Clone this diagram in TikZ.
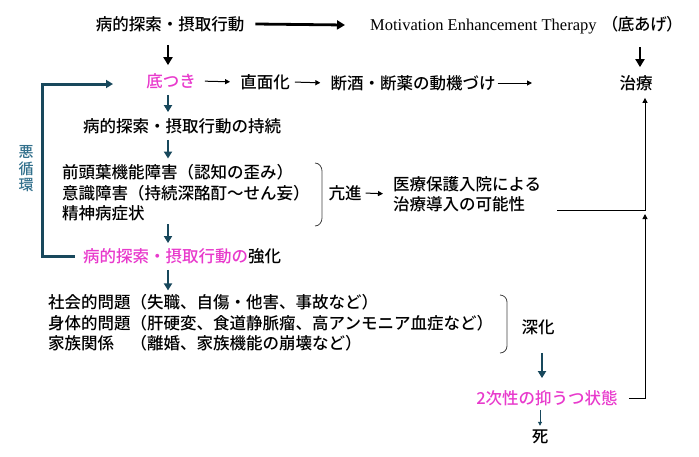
\documentclass[tikz,border=0pt]{standalone}
\usepackage{fontspec}
\setmainfont{Noto Sans CJK JP}[UprightFont={* Medium}]
\newfontfamily\metfont{Liberation Serif}
\usepackage{tikz}
\usetikzlibrary{arrows.meta}
\definecolor{pinkish}{RGB}{232,58,204}
\definecolor{deepteal}{RGB}{24,72,92}
\definecolor{loopteal}{RGB}{50,112,140}

\begin{document}
\begin{tikzpicture}[x=1pt,y=-1pt,
	every node/.style={inner sep=2pt,font=\fontsize{16.5}{20.5}\selectfont},
	lines/.style={align=left,anchor=west},
	pink/.style={text=pinkish},
	blackarr/.style={-{Triangle[length=8pt,width=9pt]},line width=2.8pt},
	thinarr/.style={-{Triangle[length=5pt,width=5pt]},line width=1pt},
	tealarr/.style={draw=deepteal,-{Triangle[length=7pt,width=8pt]},line width=2.8pt},
	tealthin/.style={draw=deepteal,-{Triangle[length=4pt,width=4pt]},line width=0.9pt},
	bracket/.style={draw=black!75,line width=0.8pt}]
\useasboundingbox (0,0) rectangle (699,456);
\coordinate (ax) at (168,0);
\coordinate (cx) at (640,0);
\coordinate (sx) at (542,0);
\coordinate (rx) at (645,0);
\coordinate (loopL) at (42,84);
\coordinate (loopin) at (113,84);
\coordinate (dokiend) at (532,83);
\coordinate (rj) at (645,214);

\node (top) at (170,24) {病的探索・摂取行動};
\node[lines] (met) at (368,25) {{\metfont\fontsize{16.5}{20}\selectfont Motivation Enhancement Therapy}\hspace{13pt}{\addfontfeatures{RawFeature=+palt}（底あげ）}};
\node[pink] (soko) at (171,81) {底つき};
\node (chokumen) at (265,82) {直面化};
\node (doki) at (413,83) {断酒・断薬の動機づけ};
\node (chiryo) at (636,83) {治療};
\node (jizoku) at (182,126) {病的探索・摂取行動の持続};
\node[lines] (sym) at (60,193) {前頭葉機能障害（認知の歪み）\\意識障害（持続深酩酊〜せん妄）\\精神病症状};
\node (koshin) at (345,193) {亢進};
\node[lines] (iryo) at (391,194) {医療保護入院による\\治療導入の可能性};
\node (kyoka) at (182,256) {\textcolor{pinkish}{病的探索・摂取行動の}強化};
\node[lines] (prob) at (46,323) {社会的問題（失職、自傷・他害、事故など）\\身体的問題（肝硬変、食道静脈瘤、高アンモニア血症など）\\家族関係　（離婚、家族機能の崩壊など）};
\node (shinka) at (538,327) {深化};
\node[pink] (utsu) at (547,398) {2次性の抑うつ状態};
\node (shi) at (540,437) {死};
\node[text=loopteal,align=center,font=\fontsize{15}{16.5}\selectfont] (akujun) at (26,169) {悪\\循\\環};

\draw[blackarr] ([xshift=9pt]top.east) -- ([xshift=-23pt]met.west);
\draw[blackarr,shorten <=11pt,shorten >=6pt] (top.south -| ax) -- (soko.north -| ax);
\draw[blackarr,shorten <=11pt,shorten >=6pt] (met.south -| cx) -- (chiryo.north -| cx);
\draw[thinarr,shorten <=7pt,shorten >=8pt] (soko.east) -- (chokumen.west);
\draw[thinarr,shorten <=3pt,shorten >=8pt] (chokumen.east) -- (doki.west);
\draw[thinarr] (doki.east) -- (dokiend);
\draw[tealarr,shorten <=4pt,shorten >=4pt] (soko.south -| ax) -- (jizoku.north -| ax);
\draw[tealarr,shorten <=4pt,shorten >=4pt] (jizoku.south -| ax) -- (sym.north -| ax);
\draw[tealarr,shorten <=1pt,shorten >=3pt] (sym.south -| ax) -- (kyoka.north -| ax);
\draw[tealarr,shorten <=4pt,shorten >=2pt] (kyoka.south -| ax) -- (prob.north -| ax);
\draw[tealarr,line width=3pt] ([xshift=-6pt]kyoka.west) -| (loopL) -- (loopin);
\draw[bracket] (315,163) to[out=0,in=90] (322,171) -- (322,218) to[out=-90,in=0] (315,226);
\draw[thinarr,shorten <=2pt,shorten >=8pt] (koshin.east) -- (iryo.west);
\draw[thinarr,shorten >=5pt] ([xshift=14pt,yshift=-16pt]iryo.east) -| (rx |- chiryo.south);
\draw[bracket] (500,295) to[out=0,in=90] (507,302) -- (507,346) to[out=-90,in=0] (500,353);
\draw[tealarr,shorten <=16pt,shorten >=10pt] (shinka.south -| sx) -- (utsu.north -| sx);
\draw[thinarr,shorten <=9pt] (utsu.east) -| (rj);
\draw[tealthin,shorten <=2pt,shorten >=2pt] (utsu.south -| shi) -- (shi.north);
\end{tikzpicture}
\end{document}
